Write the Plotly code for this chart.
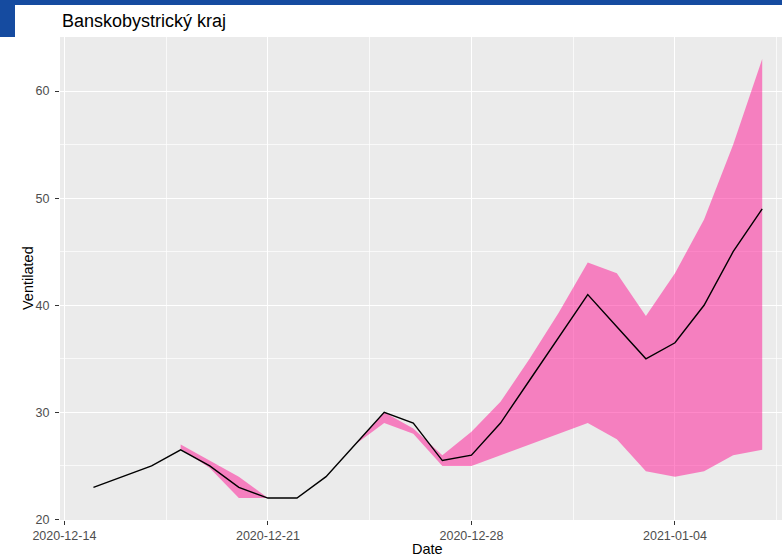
import plotly.graph_objects as go

# daily ventilated patients, black line
line_dates = [
    "2020-12-15", "2020-12-16", "2020-12-17", "2020-12-18", "2020-12-19",
    "2020-12-20", "2020-12-21", "2020-12-22", "2020-12-23", "2020-12-24",
    "2020-12-25", "2020-12-26", "2020-12-27", "2020-12-28", "2020-12-29",
    "2020-12-30", "2020-12-31", "2021-01-01", "2021-01-02", "2021-01-03",
    "2021-01-04", "2021-01-05", "2021-01-06", "2021-01-07",
]
line_values = [23, 24, 25, 26.5, 25, 23, 22, 22, 24, 27, 30, 29, 25.5, 26,
               29, 33, 37, 41, 38, 35, 36.5, 40, 45, 49]

# prediction band (pink ribbon)
band_dates = line_dates[3:]
band_lower = [26.6, 24.8, 22, 22, 22, 24, 27, 29, 28, 25, 25,
              26, 27, 28, 29, 27.5, 24.5, 24, 24.5, 26, 26.5]
band_upper = [27, 25.5, 24, 22, 22, 24, 27, 30, 28.5, 26, 28.2,
              31, 35, 39.3, 44, 43, 39, 43, 48, 55, 63]

x_ticks = ["2020-12-14", "2020-12-21", "2020-12-28", "2021-01-04"]
y_ticks = [20, 30, 40, 50, 60]

FONT = "Liberation Sans, Arial, sans-serif"
W, H = 782, 558
L, R, T, B = 60, 0, 37, 38
pw, ph = W - L - R, H - T - B

fig = go.Figure()
fig.add_trace(go.Scatter(x=band_dates, y=band_upper, mode="lines",
                         line=dict(width=0), hoverinfo="skip", showlegend=False))
fig.add_trace(go.Scatter(x=band_dates, y=band_lower, mode="lines",
                         line=dict(width=0), fill="tonexty",
                         fillcolor="rgba(255,20,147,0.5)", showlegend=False))
fig.add_trace(go.Scatter(x=line_dates, y=line_values, mode="lines",
                         line=dict(color="black", width=1.4), showlegend=False))

day = 86400000
fig.update_xaxes(
    range=["2020-12-13 20:24", "2021-01-07 16:20"],
    tickvals=x_ticks, ticktext=x_ticks,
    ticks="outside", ticklen=4, tickcolor="#333333",
    tickfont=dict(family=FONT, size=12.5, color="#4D4D4D"),
    showgrid=True, gridcolor="white", gridwidth=1.2, zeroline=False,
    minor=dict(dtick=3.5 * day, tick0="2020-12-14", showgrid=True,
               gridcolor="rgba(255,255,255,0.7)", gridwidth=0.6),
)
fig.update_yaxes(
    range=[19.95, 65.05],
    tickvals=y_ticks,
    ticks="outside", ticklen=4, tickcolor="#333333", ticklabelstandoff=3,
    tickfont=dict(family=FONT, size=12.5, color="#4D4D4D"),
    showgrid=True, gridcolor="white", gridwidth=1.2, zeroline=False,
    minor=dict(dtick=5, tick0=20, showgrid=True,
               gridcolor="rgba(255,255,255,0.7)", gridwidth=0.6),
)

blue = "#154BA0"
fig.add_shape(type="rect", xref="paper", yref="paper", layer="above",
              x0=-L / pw, x1=1.01, y0=1 + (T - 5) / ph, y1=1 + T / ph,
              fillcolor=blue, line_width=0)
fig.add_shape(type="rect", xref="paper", yref="paper", layer="above",
              x0=-L / pw, x1=(15 - L) / pw, y0=1, y1=1 + T / ph,
              fillcolor=blue, line_width=0)

fig.add_annotation(text="Banskobystrický kraj", xref="paper", yref="paper",
                   x=0, y=1 + (T - 21) / ph, xanchor="left", yanchor="middle",
                   showarrow=False, font=dict(family=FONT, size=18, color="black"))
fig.add_annotation(text="Date", xref="paper", yref="paper",
                   x=(427.5 - L) / pw, y=(H - B - 549) / ph,
                   xanchor="center", yanchor="middle",
                   showarrow=False, font=dict(family=FONT, size=14.5, color="black"))
fig.add_annotation(text="Ventilated", xref="paper", yref="paper",
                   x=(28 - L) / pw, y=(H - B - 278) / ph, textangle=-90,
                   xanchor="center", yanchor="middle",
                   showarrow=False, font=dict(family=FONT, size=14.5, color="black"))

fig.update_layout(
    width=W, height=H,
    margin=dict(l=L, r=R, t=T, b=B),
    paper_bgcolor="white", plot_bgcolor="#EBEBEB",
    showlegend=False,
)

# drop the browser's default 8px body margin so the figure sits at 0,0
fig.write_html("out.html", config={"displayModeBar": False},
               post_script="document.body.style.margin='0';")
